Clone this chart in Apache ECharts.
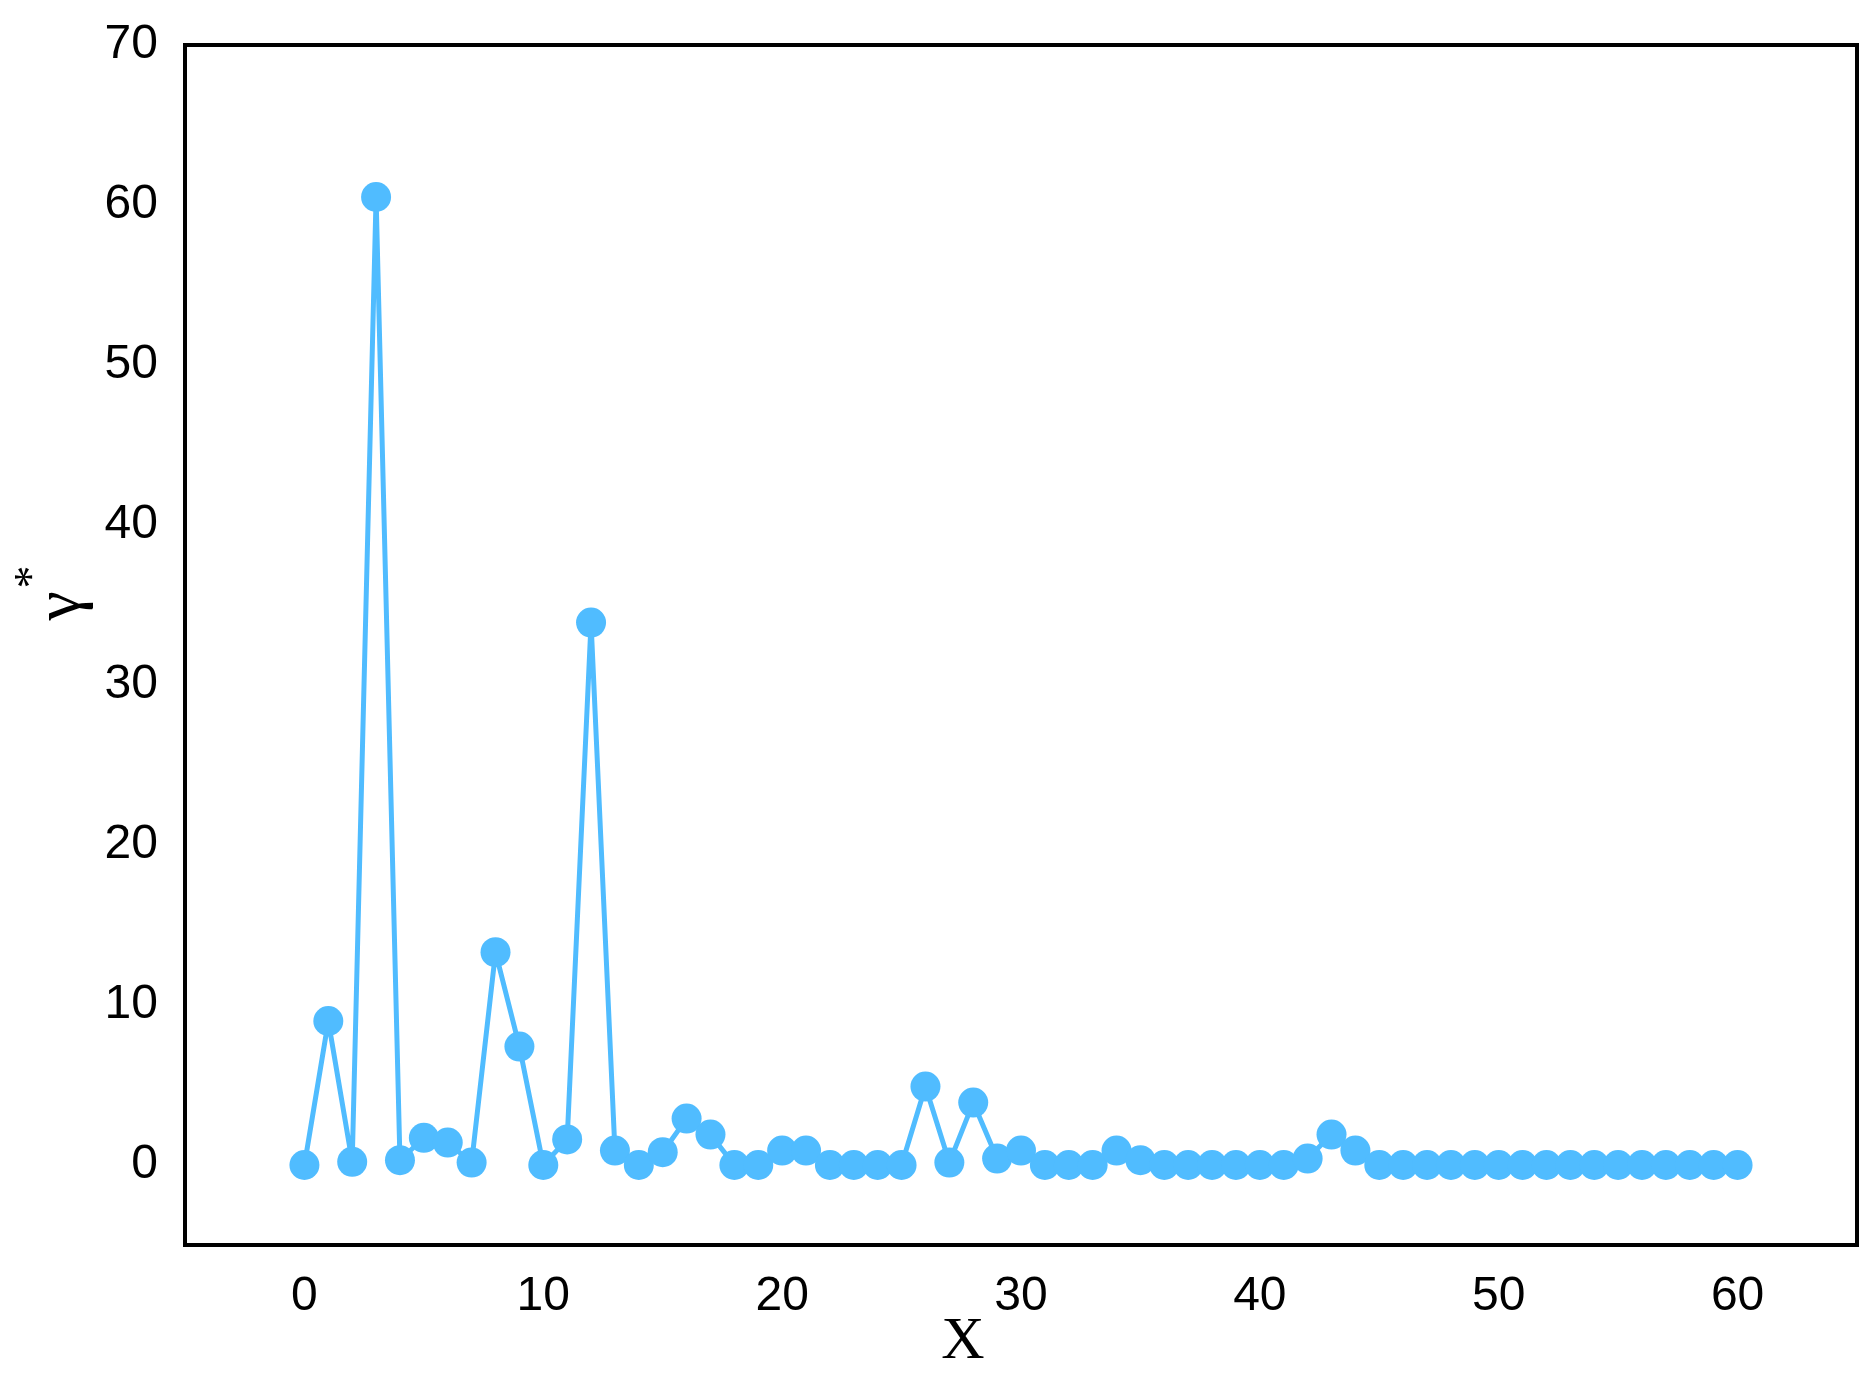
<!DOCTYPE html>
<html>
<head>
<meta charset="utf-8">
<script src="https://cdn.jsdelivr.net/npm/echarts@6/dist/echarts.min.js"></script>
<style>
  html, body { margin: 0; padding: 0; background: #fff; }
  #main { width: 1875px; height: 1376px; }
</style>
</head>
<body>
<div id="main"></div>
<script>
// x positions and gamma* values
var xs = [0, 1, 2, 3, 4, 5, 6, 7, 8, 9, 10, 11, 12, 13, 14, 15, 16, 17, 18, 19, 20,
  21, 22, 23, 24, 25, 26, 27, 28, 29, 30, 31, 32, 33, 34, 35, 36, 37, 38, 39, 40,
  41, 42, 43, 44, 45, 46, 47, 48, 49, 50, 51, 52, 53, 54, 55, 56, 57, 58, 59, 60]
var gamma = [0, 9.0, 0.2, 60.5, 0.3, 1.7, 1.4, 0.15, 13.3, 7.4, 0, 1.6, 33.9, 0.9, 0, 0.8, 2.9, 1.9, 0, 0, 0.9,
  0.9, 0, 0, 0, 0, 4.9, 0.15, 3.9, 0.4, 0.9, 0, 0, 0, 0.9, 0.3, 0, 0, 0, 0, 0,
  0, 0.4, 1.9, 0.9, 0, 0, 0, 0, 0, 0, 0, 0, 0, 0, 0, 0, 0, 0, 0, 0]
var xTicks = [0, 10, 20, 30, 40, 50, 60]
var yTicks = [0, 10, 20, 30, 40, 50, 60, 70]

var points = xs.map(function (x, i) { return [x, gamma[i]] })

var myChart = echarts.init(document.getElementById("main"))
var option = {
  animation: false,
  backgroundColor: "#fff",
  grid: {
    left: 185,
    right: 18,
    top: 45,
    bottom: 131,
    show: true,
    borderColor: "#000",
    borderWidth: 4,
    backgroundColor: "transparent"
  },
  xAxis: {
    type: "value",
    min: -5,
    max: 65,
    splitLine: { show: false },
    axisLine: { show: false },
    axisTick: { show: false },
    axisLabel: {
      customValues: xTicks,
      margin: 28,
      fontFamily: "Liberation Sans",
      fontSize: 48,
      color: "#000"
    }
  },
  yAxis: {
    type: "value",
    min: -5,
    max: 70,
    splitLine: { show: false },
    axisLine: { show: false },
    axisTick: { show: false },
    axisLabel: {
      customValues: yTicks,
      margin: 27,
      fontFamily: "Liberation Sans",
      fontSize: 48,
      color: "#000"
    }
  },
  graphic: [
    {
      type: "text",
      x: 963,
      y: 1342,
      style: {
        text: "X",
        fontFamily: "Liberation Serif",
        fontSize: 60,
        fill: "#000",
        align: "center",
        verticalAlign: "middle"
      }
    },
    {
      type: "text",
      x: 62,
      y: 606,
      rotation: Math.PI / 2,
      style: {
        text: "γ",
        fontFamily: "Liberation Serif",
        fontSize: 66,
        fill: "#000",
        align: "center",
        verticalAlign: "middle"
      }
    },
    {
      type: "text",
      x: 34,
      y: 577,
      rotation: Math.PI / 2,
      style: {
        text: "*",
        fontFamily: "Liberation Serif",
        fontSize: 46,
        fill: "#000",
        align: "center",
        verticalAlign: "middle"
      }
    }
  ],
  series: [
    {
      type: "line",
      data: points,
      symbol: "circle",
      symbolSize: 30,
      itemStyle: { color: "#50bcff" },
      lineStyle: { color: "#50bcff", width: 5 },
      z: 3
    }
  ]
}
myChart.setOption(option)
</script>
</body>
</html>
